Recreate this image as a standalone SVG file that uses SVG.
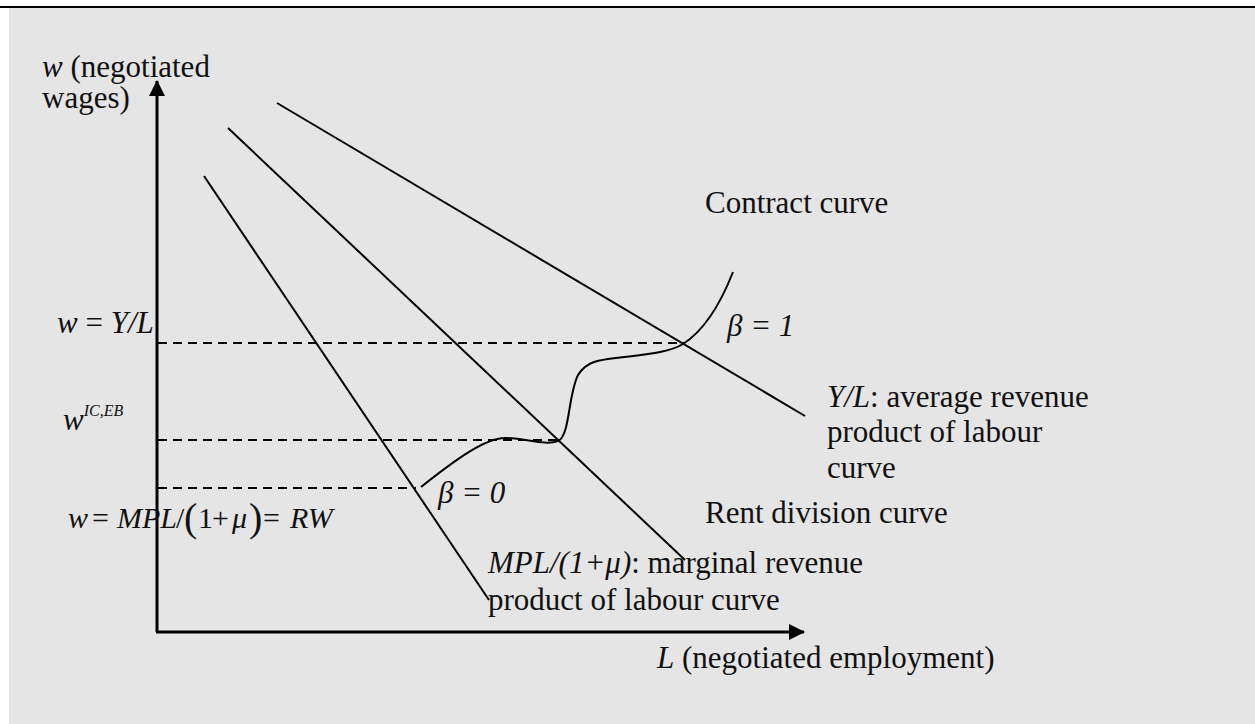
<svg xmlns="http://www.w3.org/2000/svg" width="1255" height="724" viewBox="0 0 1255 724">
<defs>
<style>
.t{font-family:"Liberation Serif","Times New Roman",serif;font-size:31px;fill:#111}
.i{font-style:italic}
.eq{font-family:"Liberation Serif","Times New Roman",serif;font-size:30px;fill:#111}
.ln{stroke:#000;stroke-width:2;fill:none}
.ax{stroke:#000;stroke-width:3;fill:none}
.ds{stroke:#000;stroke-width:2;fill:none;stroke-dasharray:9 6}
</style>
<marker id="ah" markerWidth="16" markerHeight="16" refX="15" refY="8" orient="auto" markerUnits="userSpaceOnUse">
<path d="M0,0 L16,8 L0,16 Z" fill="#000"/>
</marker>
</defs>
<rect x="0" y="0" width="1255" height="724" fill="#ffffff"/>
<rect x="9" y="8" width="1246" height="716" fill="#e5e5e5"/>
<line x1="0" y1="7" x2="1255" y2="7" stroke="#000" stroke-width="2"/>

<g id="axes">
<line class="ax" x1="157" y1="632" x2="157" y2="81" marker-end="url(#ah)"/>
<line class="ax" x1="156" y1="632" x2="804" y2="632" marker-end="url(#ah)"/>
</g>

<g id="connectors">
<line class="ln" x1="204" y1="176" x2="489" y2="600"/>
<line class="ln" x1="228" y1="128" x2="685" y2="560"/>
<line class="ln" x1="277" y1="103" x2="805" y2="416"/>
<line class="ds" x1="158" y1="343" x2="684" y2="343"/>
<line class="ds" x1="158" y1="440" x2="560" y2="440"/>
<line class="ds" x1="158" y1="488" x2="416" y2="488"/>
<path class="ln" d="M421,487 C455,460 485,438 505,438 C525,438 545,446 558,441 C570,436 568,395 578,375 C587,360 600,360 625,357 C650,354 670,352 683,344 C705,330 722,300 733,272"/>
</g>

<g id="label-yaxis">
<text class="t" x="42" y="77" font-size="30"><tspan class="i">w</tspan> (negotiated</text>
<text class="t" x="42" y="108" font-size="30">wages)</text>
</g>
<g id="label-xaxis">
<text class="t" x="657" y="668"><tspan class="i">L</tspan> (negotiated employment)</text>
</g>
<g id="label-contract">
<text class="t" x="705" y="213">Contract curve</text>
</g>
<g id="label-wyl">
<text class="t" x="57" y="333"><tspan class="i">w</tspan> = <tspan class="i">Y/L</tspan></text>
</g>
<g id="label-wiceb">
<text class="t i" x="63" y="430" font-size="34">w<tspan font-size="16" dy="-14">IC,EB</tspan></text>
</g>
<g id="label-wmpl">
<text class="eq" y="528"><tspan class="i" x="68">w</tspan><tspan x="92">=</tspan><tspan class="i" x="117">MPL</tspan><tspan x="176">/</tspan><tspan x="184" font-size="40" dy="3">(</tspan><tspan x="198" dy="-3">1</tspan><tspan x="212">+</tspan><tspan class="i" x="232">μ</tspan><tspan x="249" font-size="40" dy="3">)</tspan><tspan x="263" dy="-3">=</tspan><tspan class="i" x="290">RW</tspan></text>
</g>
<g id="label-beta1">
<text class="t i" x="727" y="336">β = 1</text>
</g>
<g id="label-beta0">
<text class="t i" x="438" y="503">β = 0</text>
</g>
<g id="label-yl">
<text class="t" x="827" y="407"><tspan class="i">Y/L</tspan>: average revenue</text>
<text class="t" x="827" y="442">product of labour</text>
<text class="t" x="827" y="478">curve</text>
</g>
<g id="label-rent">
<text class="t" x="705" y="523">Rent division curve</text>
</g>
<g id="label-mpl">
<text class="t" x="488" y="573"><tspan class="i">MPL/(1+μ)</tspan>: marginal revenue</text>
<text class="t" x="488" y="610">product of labour curve</text>
</g>
</svg>
